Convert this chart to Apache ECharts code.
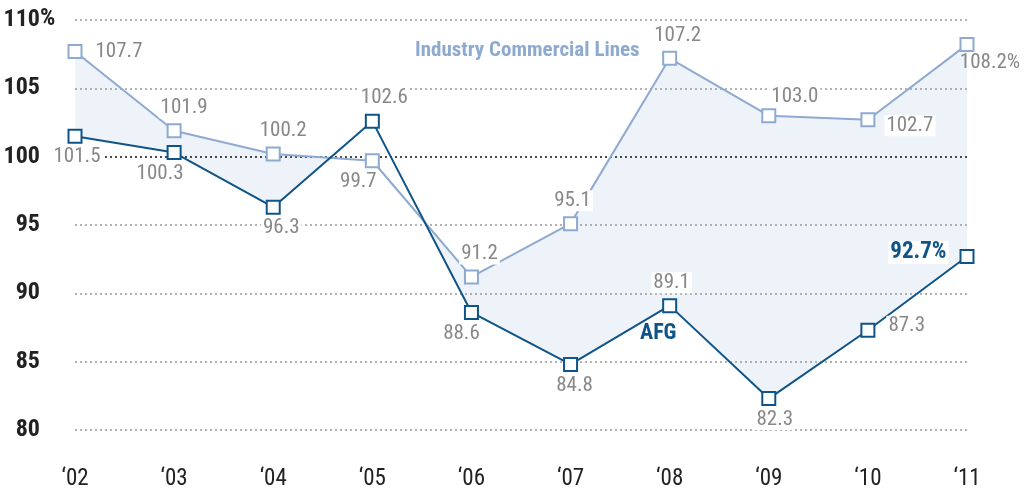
<!DOCTYPE html>
<html>
<head>
<meta charset="utf-8">
<script src="https://cdn.jsdelivr.net/npm/echarts@6/dist/echarts.min.js"></script>
<style>
  html, body { margin: 0; padding: 0; background: #fff; }
  #chart { width: 1024px; height: 496px; }
</style>
</head>
<body>
<div id="chart"></div>
<script>
const years = ['‘02', '‘03', '‘04', '‘05', '‘06', '‘07', '‘08', '‘09', '‘10', '‘11'];
const industry = [107.7, 101.9, 100.2, 99.7, 91.2, 95.1, 107.2, 103.0, 102.7, 108.2];
const afg = [101.5, 100.3, 96.3, 102.6, 88.6, 84.8, 89.1, 82.3, 87.3, 92.7];
const industryText = ['107.7', '101.9', '100.2', '99.7', '91.2', '95.1', '107.2', '103.0', '102.7', '108.2%'];
const afgText = ['101.5', '100.3', '96.3', '102.6', '88.6', '84.8', '89.1', '82.3', '87.3', '92.7%'];

// label placement for each point: [position, dx, dy]
const industryPlace = [
  ['right', 6, 0], ['top', 10, 0], ['top', 10, 0], ['bottom', -14, -2], ['top', 8, 0],
  ['top', 2, 0], ['top', 8, 0], ['top', 26, 4], ['right', 4, 6], ['bottom', 23, -5]
];
const afgPlace = [
  ['bottom', 2, -2], ['bottom', -14, -2], ['bottom', 8, -2], ['top', 12, 0], ['bottom', -10, -2],
  ['bottom', 4, -2], ['top', 2, 0], ['bottom', 6, -2], ['right', 6, -4], ['left', -6, -4]
];

const FONT = "'Liberation Sans Narrow', 'Roboto Condensed', Roboto, sans-serif";
const DARK = '#0f5488';
const LIGHT = '#8eaad0';

const labelled = (values, texts, place, last) => values.map((v, i) => ({
  value: v,
  label: {
    show: true,
    position: place[i][0],
    offset: [place[i][1], place[i][2]],
    formatter: texts[i],
    color: (last && i === values.length - 1) ? DARK : '#888',
    fontWeight: (last && i === values.length - 1) ? 'bold' : 'normal',
    fontSize: (last && i === values.length - 1) ? 23 : 21,
    fontFamily: FONT,
    backgroundColor: (!last && i === values.length - 1) ? 'transparent' : '#fff',
    padding: [0, 2]
  }
}));

const chart = echarts.init(document.getElementById('chart'));
chart.setOption({
  animation: false,
  grid: { left: 75, right: 57, top: 20, bottom: 66 },
  xAxis: {
    type: 'category',
    data: years,
    boundaryGap: false,
    axisLine: { show: false },
    axisTick: { show: false },
    splitLine: { show: false },
    axisLabel: { color: '#222', fontSize: 23, fontFamily: FONT, margin: 38 }
  },
  yAxis: {
    type: 'value',
    min: 80,
    max: 110,
    interval: 5,
    z: 3,
    axisLine: { show: false },
    axisTick: { show: false },
    axisLabel: {
      color: '#222', fontSize: 24, fontWeight: 'bold', fontFamily: FONT, margin: 35
    },
    splitLine: {
      lineStyle: {
        color: ['#999', '#999', '#999', '#999', '#111', '#999', '#999'],
        width: 1.5,
        type: [2, 3]
      }
    }
  },
  graphic: [
    { type: 'text', left: 40, top: 7, z: 10,
      style: { text: '%', fontSize: 24, fontWeight: 'bold', fill: '#222', fontFamily: FONT } },
    { type: 'text', left: 415, top: 40, z: 10,
      style: { text: 'Industry Commercial Lines', fontSize: 21, fontWeight: 'bold', fill: LIGHT, fontFamily: FONT } },
    { type: 'text', left: 640, top: 322, z: 10,
      style: { text: 'AFG', fontSize: 22, fontWeight: 'bold', fill: DARK, fontFamily: FONT } }
  ],
  series: [
    {
      name: 'industryArea', type: 'line', data: industry, z: 1,
      symbol: 'none', lineStyle: { width: 0 }, areaStyle: { color: '#eef3f9', opacity: 1 },
      silent: true
    },
    {
      name: 'afgArea', type: 'line', data: afg, z: 2,
      symbol: 'none', lineStyle: { width: 0 }, areaStyle: { color: '#fff', opacity: 1 },
      silent: true
    },
    {
      name: 'Industry Commercial Lines', type: 'line', z: 4,
      data: labelled(industry, industryText, industryPlace, false),
      symbol: 'rect', symbolSize: 13, showAllSymbol: true,
      lineStyle: { color: LIGHT, width: 2 },
      itemStyle: { color: '#fff', borderColor: LIGHT, borderWidth: 2 }
    },
    {
      name: 'AFG', type: 'line', z: 5,
      data: labelled(afg, afgText, afgPlace, true),
      symbol: 'rect', symbolSize: 13, showAllSymbol: true,
      lineStyle: { color: DARK, width: 2 },
      itemStyle: { color: '#fff', borderColor: DARK, borderWidth: 2 }
    }
  ]
});
</script>
</body>
</html>
